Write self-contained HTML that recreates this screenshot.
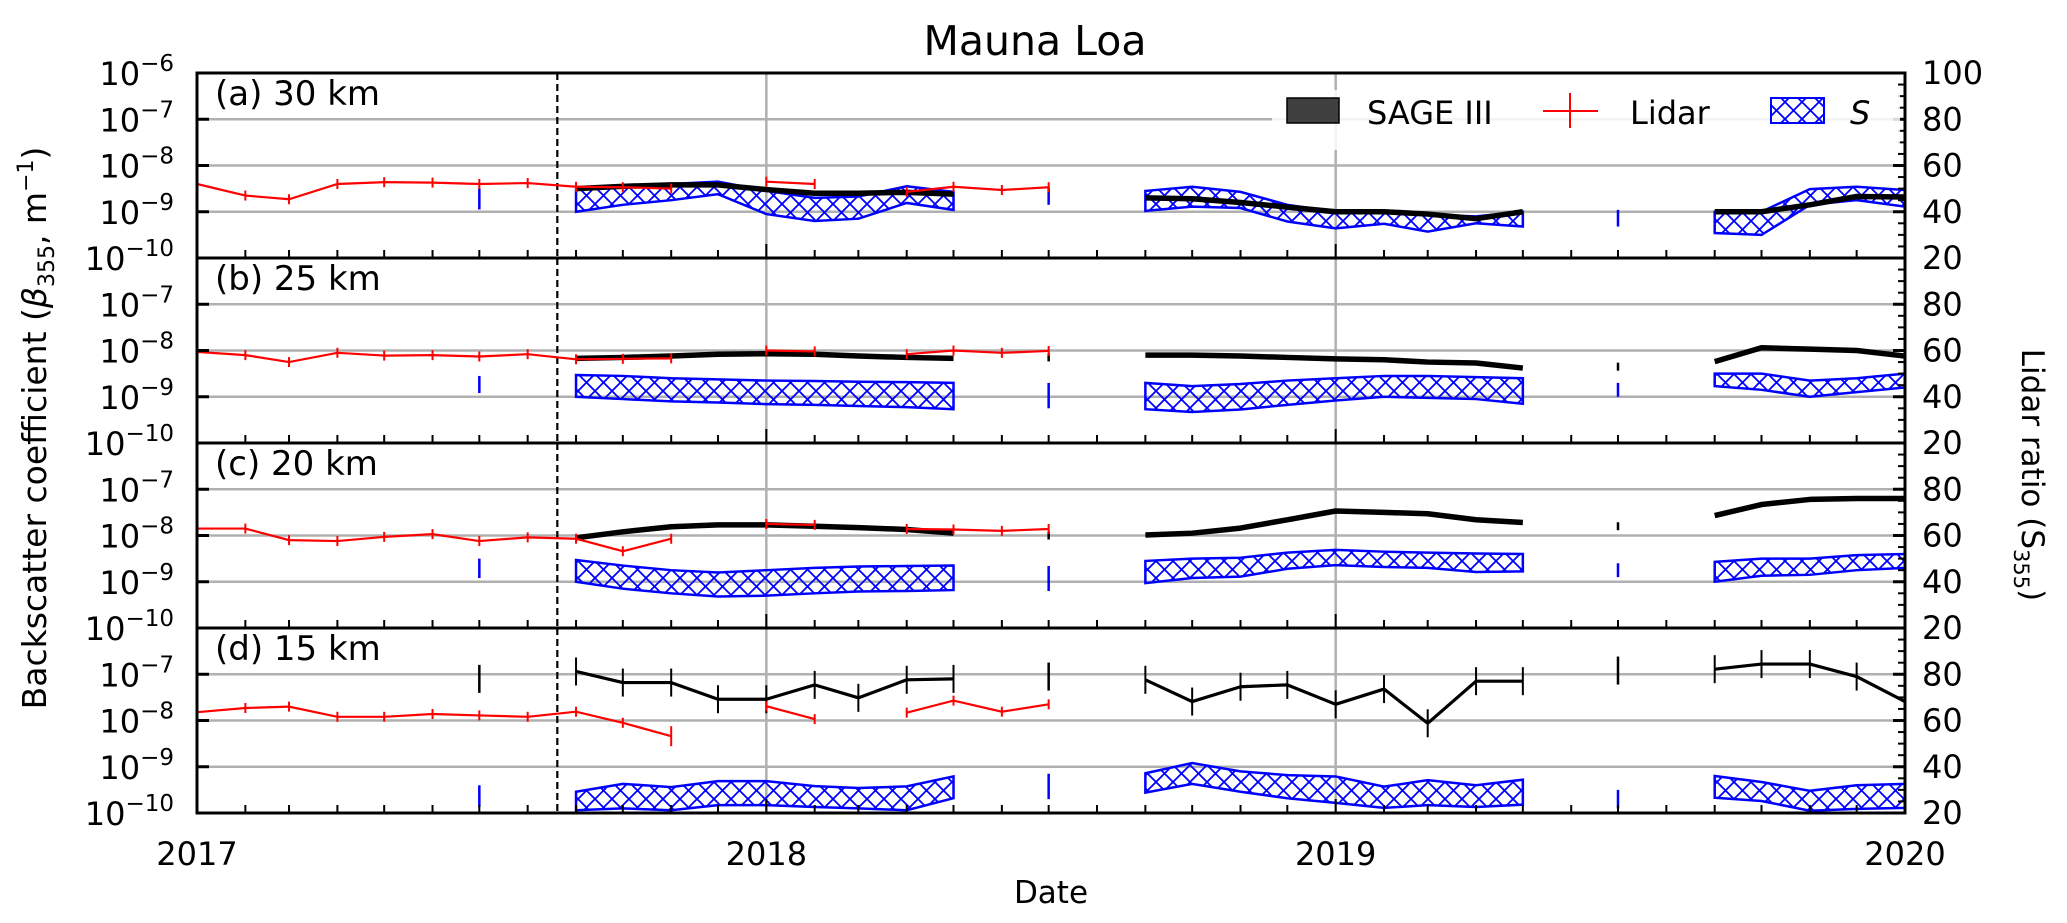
<!DOCTYPE html>
<html><head><meta charset="utf-8"><title>Mauna Loa</title>
<style>
html,body{margin:0;padding:0;background:#fff;}
svg{display:block;font-family:"DejaVu Sans","Liberation Sans",sans-serif;}
</style></head>
<body>
<svg id="chart" width="2067" height="923" viewBox="0 0 2067 923" xmlns="http://www.w3.org/2000/svg">
<defs>
<pattern id="hatch" patternUnits="userSpaceOnUse" width="17" height="17">
<path d="M0,0 L17,17 M17,0 L0,17 M-2,15 L2,19 M15,-2 L19,2" stroke="#0000ff" stroke-width="1.8" fill="none"/>
</pattern>
</defs>
<text x="1035" y="55" font-size="41" text-anchor="middle">Mauna Loa</text>
<text transform="translate(46,428) rotate(-90)" font-size="33" text-anchor="middle">Backscatter coefficient (<tspan font-style="italic">β</tspan><tspan font-size="22" dy="8">355</tspan><tspan dy="-8">, m</tspan><tspan font-size="22" dy="-13">−1</tspan><tspan dy="13">)</tspan></text>
<text transform="translate(2022,475) rotate(90)" font-size="31" text-anchor="middle">Lidar ratio (S<tspan font-size="21" dy="8">355</tspan><tspan dy="-8">)</tspan></text>
<text x="1051" y="903" font-size="31" text-anchor="middle">Date</text>
<g id="plot"></g>
</svg>
<script>
// months since Jan 2017 (index 0..36)
const panelLabels = ["(a) 30 km","(b) 25 km","(c) 20 km","(d) 15 km"];
const yearLabels = ["2017","2018","2019","2020"];
const leftTickExp = [-6,-7,-8,-9,-10];
const rightTicks = [100,80,60,40,20];
const N = null;
// log10 backscatter, Lidar
const lidarA = [-8.4,-8.65,-8.73,-8.4,-8.36,-8.37,-8.4,-8.38,-8.46,-8.47,-8.5,N,-8.35,-8.4,N,-8.57,-8.46,-8.53,-8.47];
const lidarB = [-8.03,-8.1,-8.25,-8.05,-8.11,-8.1,-8.13,-8.08,-8.19,-8.18,-8.17,N,-8.0,-8.02,N,-8.08,-8.0,-8.05,-8.01];
const lidarC = [-7.85,-7.85,-8.1,-8.12,-8.03,-7.97,-8.12,-8.04,-8.07,-8.34,-8.07,N,-7.75,-7.77,N,-7.86,-7.87,-7.9,-7.86];
const lidarD = [-7.82,-7.73,-7.70,-7.92,-7.92,-7.86,-7.89,-7.92,-7.81,-8.05,-8.34,N,-7.69,-7.97,N,-7.83,-7.57,-7.81,-7.65];
// log10 backscatter, SAGE III
const sageA = [N,N,N,N,N,N,N,N,-8.5,-8.45,-8.42,-8.42,-8.52,-8.6,-8.6,-8.58,-8.62,N,N,N,-8.7,-8.72,-8.8,-8.9,-9.0,-9.0,-9.05,-9.15,-9.0,N,N,N,-9.0,-9.0,-8.85,-8.67,-8.68];
const sageB = [N,N,N,N,N,N,N,N,-8.17,-8.15,-8.12,-8.08,-8.07,-8.08,-8.12,-8.15,-8.17,N,-8.15,N,-8.1,-8.1,-8.12,-8.15,-8.18,-8.2,-8.25,-8.27,-8.38,N,-8.35,N,-8.24,-7.94,-7.97,-8.0,-8.12];
const sageC = [N,N,N,N,N,N,N,N,-8.05,-7.92,-7.81,-7.77,-7.77,-7.8,-7.83,-7.87,-7.95,N,-8.0,N,-7.99,-7.95,-7.84,-7.66,-7.47,-7.5,-7.53,-7.66,-7.72,N,-7.8,N,-7.57,-7.33,-7.22,-7.2,-7.2];
const sageD = [N,N,N,N,N,N,-7.1,N,-6.94,-7.18,-7.18,-7.54,-7.54,-7.23,-7.51,-7.12,-7.1,N,-7.05,N,-7.12,-7.59,-7.27,-7.23,-7.65,-7.32,-8.06,-7.15,-7.15,N,-6.92,N,-6.89,-6.78,-6.78,-7.05,-7.59];
// lidar ratio S, lower / upper
const sLoA = [N,N,N,N,N,N,41,N,40,43,45,47.6,39,36,37,43.8,40.8,N,43,N,40.4,42.2,41.6,35.8,32.8,34.8,31.4,35,33.6,N,33.6,N,30.8,30,43,45,42.2];
const sHiA = [N,N,N,N,N,N,50,N,49.4,51,52,53,49,46,46.6,51,48.6,N,50.8,N,49,50.8,48.6,43,40,39.6,38.6,38,40,N,40.8,N,40,40,49.8,50.8,49.4];
const sLoB = [N,N,N,N,N,N,41.6,N,40,39,38,37.5,36.8,36.5,36,35.5,34.6,N,35,N,34.6,33.4,34.5,36.5,38.4,40,39.5,39,37,N,40,N,44.6,43,40,42,44];
const sHiB = [N,N,N,N,N,N,49,N,49.4,49,48,47.5,47,46.8,46.5,46.3,46,N,46,N,46,44.6,45.5,47,48,49,49,48.5,48,N,46,N,50,50,47,48,50];
const sLoC = [N,N,N,N,N,N,41.6,N,40,37,35,33.6,34,35,35.8,36,36.4,N,36,N,39.4,41.6,42.2,45.6,47.2,46.4,46,44.2,44.5,N,42,N,40,42.6,43,45,46];
const sHiC = [N,N,N,N,N,N,50,N,49.4,47,45,44,45,46,46.6,46.8,47,N,46.8,N,49,50,50.4,52.6,53.8,53,52.6,52.2,52,N,48,N,48.6,50,50,51.5,52];
const sLoD = [N,N,N,N,N,N,22.6,N,21.2,22,21.2,23.4,23.4,22.6,22,21.2,26.4,N,26,N,28.8,32.6,29.2,26.4,24.4,22.2,23.4,22.6,23.6,N,22,N,26.6,25.2,21,21.8,22.2];
const sHiD = [N,N,N,N,N,N,32,N,29.2,32.6,31.2,33.8,33.8,31.6,30.8,31.5,35.8,N,37,N,37.2,41.6,38,36.4,35.8,31.4,34.2,32,34.4,N,30,N,36,33.4,29.6,32,32.6];

const lidarSets=[lidarA,lidarB,lidarC,lidarD];
const sageSets=[sageA,sageB,sageC,sageD];
const sLoSets=[sLoA,sLoB,sLoC,sLoD];
const sHiSets=[sHiA,sHiB,sHiC,sHiD];

const X0=197,X1=1905,TOP=73,PH=185,DEC=PH/4;
const t0=Date.UTC(2017,0,1),t1=Date.UTC(2020,0,1);
function xOfDate(ms){return X0+(ms-t0)/(t1-t0)*(X1-X0);}
function xOfMonth(m){return xOfDate(Date.UTC(2017,m,1));}
function yLog(p,v){return TOP+p*PH+(-6-v)*DEC;}
function yRatio(p,r){return TOP+p*PH+(100-r)/80*PH;}

const NS="http://www.w3.org/2000/svg";
const plot=document.getElementById('plot');
function mk(tag,attrs,parent){const e=document.createElementNS(NS,tag);for(const k in attrs)e.setAttribute(k,attrs[k]);(parent||plot).appendChild(e);return e;}
function segments(arr){const segs=[];let cur=[];arr.forEach((v,i)=>{if(v===null||v===undefined){if(cur.length)segs.push(cur);cur=[];}else cur.push(i);});if(cur.length)segs.push(cur);return segs;}

for(let p=0;p<4;p++){
  const g=mk('g',{});
  
  
  const top=TOP+p*PH,bot=top+PH;
  [-7,-8,-9].forEach(e=>{const l=mk('line',{x1:X0,x2:X1,y1:yLog(p,e),y2:yLog(p,e),stroke:'#b0b0b0','stroke-width':2.5},g);
    
    });
  [1,2].forEach(y=>{const x=xOfDate(Date.UTC(2017+y,0,1));const l=mk('line',{x1:x,x2:x,y1:top,y2:bot,stroke:'#b0b0b0','stroke-width':2.5},g);
    
    });
  const xd=xOfDate(Date.UTC(2017,7,20));
  {const l=mk('line',{x1:xd,x2:xd,y1:top,y2:bot,stroke:'#000','stroke-width':2.2,'stroke-dasharray':'7,4'},g);
    
    }
  const lo=sLoSets[p],hi=sHiSets[p];
  segments(lo).forEach(seg=>{
    if(seg.length===1){const i=seg[0];const l=mk('line',{x1:xOfMonth(i),x2:xOfMonth(i),y1:yRatio(p,lo[i]),y2:yRatio(p,hi[i]),stroke:'#0000ff','stroke-width':2.5},g);
      
      return;}
    const pts=seg.map(i=>xOfMonth(i)+','+yRatio(p,hi[i])).concat(seg.slice().reverse().map(i=>xOfMonth(i)+','+yRatio(p,lo[i])));
    const poly=mk('polygon',{points:pts.join(' '),fill:'url(#hatch)',stroke:'#0000ff','stroke-width':2.5},g);
    
    
  });
  const sg=sageSets[p];
  segments(sg).forEach(seg=>{
    if(seg.length===1){const i=seg[0];const x=xOfMonth(i),y=yLog(p,sg[i]);const h=p===3?14:4;
      const l=mk('line',{x1:x,x2:x,y1:y-h,y2:y+h,stroke:'#000','stroke-width':2.5},g);
      
      return;}
    const pl=mk('polyline',{points:seg.map(i=>xOfMonth(i)+','+yLog(p,sg[i])).join(' '),fill:'none',stroke:'#000','stroke-width':p===3?3.2:5.5,'stroke-linejoin':'round'},g);
    
    
    if(p===3){seg.forEach(i=>{const x=xOfMonth(i),y=yLog(p,sg[i]);const l=mk('line',{x1:x,x2:x,y1:y-14,y2:y+14,stroke:'#000','stroke-width':2},g);
      
      });}
  });
  const ld=lidarSets[p];
  segments(ld).forEach(seg=>{
    const pl=mk('polyline',{points:seg.map(i=>xOfMonth(i)+','+yLog(p,ld[i])).join(' '),fill:'none',stroke:'#ff0000','stroke-width':2.2},g);
    
    
    seg.forEach(i=>{const x=xOfMonth(i),y=yLog(p,ld[i]);const h=(p===3&&i===10)?10:5;const l=mk('line',{x1:x,x2:x,y1:y-h,y2:y+h,stroke:'#ff0000','stroke-width':2},g);
      
      });
  });
  for(let m=1;m<36;m++){const x=xOfMonth(m);const big=m%12===0;const l=mk('line',{x1:x,x2:x,y1:bot,y2:bot-(big?14:8),stroke:'#000','stroke-width':2},g);
    
    }
  [-7,-8,-9].forEach(e=>{const y=yLog(p,e);const l=mk('line',{x1:X0,x2:X0+12,y1:y,y2:y,stroke:'#000','stroke-width':3},g);
    
    });
  for(let r=25;r<100;r+=5){const y=yRatio(p,r);const big=r%20===0;const l=mk('line',{x1:X1,x2:X1-(big?12:7),y1:y,y2:y,stroke:'#000','stroke-width':big?3:2},g);
    
    }
  const fr=mk('rect',{x:X0,y:top,width:X1-X0,height:PH,fill:'none',stroke:'#000','stroke-width':3},g);
  
  
  const pt=mk('text',{x:215,y:top+32,'font-size':34},g);pt.textContent=panelLabels[p];
  
  
  leftTickExp.forEach((e,k)=>{if(p>0&&k===0)return;const y=yLog(p,e)+12;
    const t=mk('text',{x:174,y:y,'font-size':32,'text-anchor':'end'},g);
    
    
    const a=document.createElementNS(NS,'tspan');a.textContent='10';t.appendChild(a);
    const b=document.createElementNS(NS,'tspan');b.setAttribute('dy','-14');b.setAttribute('font-size','23');b.textContent='−'+(-e);t.appendChild(b);});
  rightTicks.forEach((r,k)=>{if(p>0&&k===0)return;const t=mk('text',{x:1922,y:yRatio(p,r)+11,'font-size':32},g);t.textContent=r;
    
    });
}
yearLabels.forEach((s,i)=>{const t=mk('text',{x:xOfDate(Date.UTC(2017+i,0,1)),y:865,'font-size':32,'text-anchor':'middle'});t.textContent=s;
  
  });
const lg=mk('g',{});


mk('rect',{x:1272,y:90,width:628,height:60,fill:'#fff',opacity:0.85},lg);
const sw1=mk('rect',{x:1287,y:98,width:52,height:25,fill:'#404040',stroke:'#000','stroke-width':1.5},lg);


const t1e=mk('text',{x:1367,y:124,'font-size':32},lg);t1e.textContent='SAGE III';


const ll=mk('path',{d:'M1543,111 L1598,111 M1570,93 L1570,128',stroke:'#ff0000','stroke-width':2,fill:'none'},lg);


const t2e=mk('text',{x:1630,y:124,'font-size':32},lg);t2e.textContent='Lidar';


const sw3=mk('rect',{x:1771,y:98,width:53,height:25,fill:'url(#hatch)',stroke:'#0000ff','stroke-width':2},lg);


const t3e=mk('text',{x:1850,y:124,'font-size':32,'font-style':'italic'},lg);t3e.textContent='S';


</script>
</body></html>
